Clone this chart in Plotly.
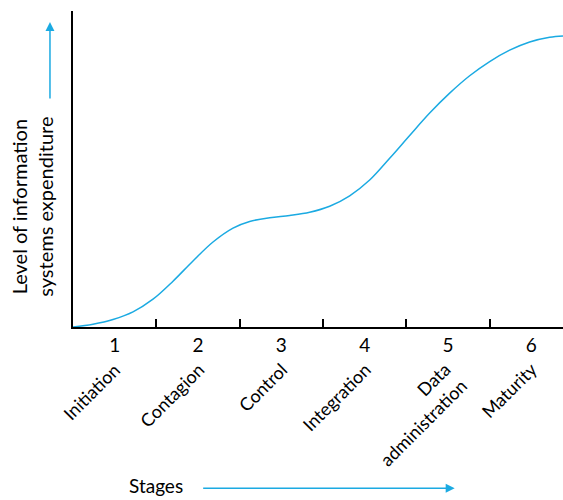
import plotly.graph_objects as go

# Stage curve
curve_x = [0.5, 0.74, 0.98, 1.22, 1.46, 1.70, 1.94, 2.18, 2.42, 2.62, 2.86, 3.10,
           3.34, 3.58, 3.82, 4.06, 4.30, 4.54, 4.78, 5.02, 5.26, 5.50, 5.74, 5.98,
           6.22, 6.38]
curve_y = [0.0, 0.9, 2.4, 4.8, 8.8, 14.5, 20.9, 26.9, 31.3, 33.4, 34.6, 35.3,
           36.3, 38.2, 41.5, 46.5, 53.4, 60.6, 67.7, 74.0, 79.5, 84.0, 87.6, 90.2,
           91.7, 92.1]

stage_numbers = [1, 2, 3, 4, 5, 6]
stage_ticktext = ["1", "2", "3", "4", "5", "6"]
stage_names = ["Initiation", "Contagion", "Control", "Integration",
               "Data<br>administration", "Maturity"]
stage_boundaries = [1.5, 2.5, 3.5, 4.5, 5.5]

BLUE = "#1BAAE2"
FONT = "Lato"

fig = go.Figure()
fig.add_trace(go.Scatter(x=curve_x, y=curve_y, mode="lines",
                         line=dict(color=BLUE, width=1.5, shape="spline", smoothing=1.0),
                         hoverinfo="skip", showlegend=False, cliponaxis=False))

fig.update_layout(
    width=563, height=500,
    margin=dict(l=73, r=0, t=11, b=173),
    paper_bgcolor="white", plot_bgcolor="white",
    font=dict(family=FONT, size=18, color="black"),
    showlegend=False,
    xaxis=dict(range=[0.5, 6.38], showgrid=False, zeroline=False,
               showline=True, linecolor="black", linewidth=1.5,
               tickmode="array", tickvals=stage_numbers, ticktext=stage_ticktext,
               ticks="", tickfont=dict(size=19, family=FONT),
               minor=dict(tickmode="array", tickvals=stage_boundaries, ticks="inside",
                          ticklen=8, tickwidth=1.5, tickcolor="black", showgrid=False)),
    yaxis=dict(range=[0, 100], showgrid=False, zeroline=False,
               showline=True, linecolor="black", linewidth=1.5,
               showticklabels=False, ticks=""),
)

for n, name in zip(stage_numbers, stage_names):
    fig.add_annotation(x=n, y=-0.09, xref="x", yref="paper", text=name,
                       textangle=-45, showarrow=False, xanchor="right", yanchor="top",
                       align="right",
                       xshift=25 if "<br>" in name else 13,
                       font=dict(size=18, family=FONT))

# Y-axis title with arrow
fig.add_annotation(x=-0.084, y=0.38, xref="paper", yref="paper",
                   text="Level of information<br>systems expenditure",
                   textangle=-90, showarrow=False, xanchor="center", yanchor="middle",
                   font=dict(size=20, family=FONT))
fig.add_annotation(x=-0.047, y=96.5, xref="paper", yref="y", text="",
                   showarrow=True, axref="pixel", ayref="pixel", ax=0, ay=78,
                   arrowhead=2, arrowsize=1.2, arrowwidth=1.5, arrowcolor=BLUE)

# X-axis title with arrow
fig.add_annotation(x=1.5, y=-0.503, xref="x", yref="paper", text="Stages",
                   showarrow=False, xanchor="center", yanchor="middle",
                   font=dict(size=19, family=FONT))
fig.add_annotation(x=5.08, y=-0.51, xref="x", yref="paper", text="",
                   showarrow=True, axref="pixel", ayref="pixel", ax=-253, ay=0,
                   arrowhead=2, arrowsize=1.2, arrowwidth=1.5, arrowcolor=BLUE)

fig.write_html("out.html", config={"displayModeBar": False},
               post_script="document.body.style.margin='0';document.body.style.overflow='hidden';")
